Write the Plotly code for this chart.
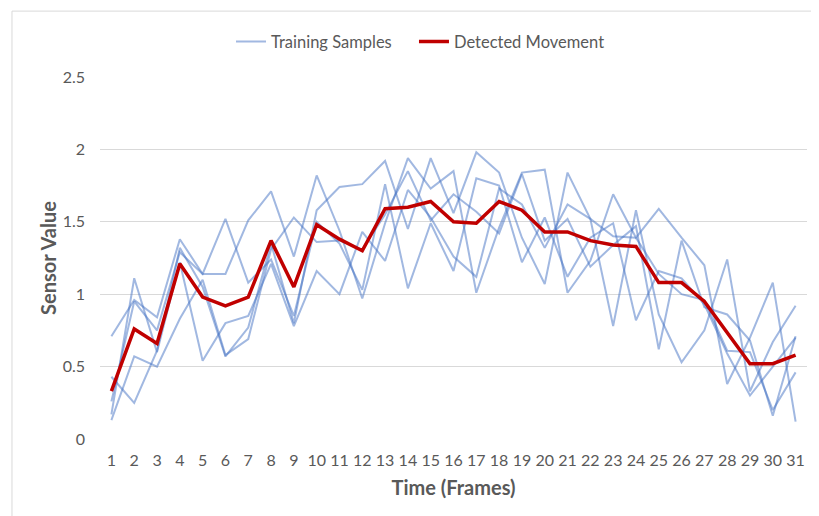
import plotly.graph_objects as go

frames = [str(f) for f in range(1, 32)]

sample_1 = [0.71, 0.96, 0.84, 1.38, 1.14, 1.14, 1.51, 1.71, 1.26, 1.82, 1.44, 0.97, 1.49, 1.94, 1.73, 1.85,
            1.01, 1.46, 1.84, 1.86, 1.01, 1.23, 1.69, 1.39, 1.59, 1.39, 1.20, 0.38, 0.70, 1.08, 0.12]
sample_2 = [0.43, 0.25, 0.61, 1.32, 1.05, 0.57, 0.77, 1.35, 0.80, 1.58, 1.74, 1.76, 1.92, 1.45, 1.94, 1.56,
            1.98, 1.84, 1.39, 1.07, 1.84, 1.52, 0.78, 1.58, 0.86, 0.53, 0.75, 1.24, 0.33, 0.67, 0.92]
sample_3 = [0.26, 0.95, 0.75, 1.29, 1.14, 1.52, 1.08, 1.24, 0.85, 1.50, 1.35, 1.03, 1.76, 1.04, 1.49, 1.16,
            1.80, 1.75, 1.22, 1.53, 1.12, 1.39, 1.49, 0.82, 1.16, 1.11, 0.93, 0.59, 0.30, 0.50, 0.70]
sample_4 = [0.17, 1.11, 0.60, 1.22, 0.54, 0.80, 0.85, 1.21, 0.78, 1.16, 1.00, 1.43, 1.23, 1.72, 1.53, 1.26,
            1.12, 1.73, 1.62, 1.32, 1.62, 1.52, 1.40, 1.39, 1.14, 1.00, 0.96, 0.61, 0.60, 0.20, 0.46]
sample_5 = [0.13, 0.57, 0.50, 0.83, 1.10, 0.58, 0.69, 1.31, 1.53, 1.36, 1.37, 1.31, 1.55, 1.85, 1.51, 1.69,
            1.57, 1.42, 1.83, 1.37, 1.52, 1.19, 1.34, 1.47, 0.62, 1.37, 0.91, 0.86, 0.68, 0.16, 0.71]

detected = [0.33, 0.76, 0.66, 1.21, 0.98, 0.92, 0.98, 1.37, 1.05, 1.48, 1.38, 1.30, 1.59, 1.60, 1.64, 1.50,
            1.49, 1.64, 1.58, 1.43, 1.43, 1.37, 1.34, 1.33, 1.08, 1.08, 0.95, 0.74, 0.52, 0.52, 0.58]

y_ticks = [0, 0.5, 1, 1.5, 2, 2.5]
y_tick_labels = ["0", "0.5", "1", "1.5", "2", "2.5"]

FONT = "Lato, 'Open Sans', sans-serif"
GRAY = "#595959"
BLUE = "rgba(68,114,196,0.5)"
RED = "#C00000"

fig = go.Figure()
for i, s in enumerate([sample_1, sample_2, sample_3, sample_4, sample_5]):
    fig.add_trace(go.Scatter(
        x=frames, y=s, mode="lines",
        line=dict(color=BLUE, width=2),
        name="Training Samples", legendgroup="train", showlegend=(i == 0), legend="legend",
    ))
fig.add_trace(go.Scatter(
    x=frames, y=detected, mode="lines",
    line=dict(color=RED, width=3.5), name="Detected Movement", legend="legend2",
))

legend_common = dict(orientation="h", y=1.097, yanchor="middle", xanchor="left",
                     bgcolor="rgba(0,0,0,0)", font=dict(size=16.5, color=GRAY), itemwidth=30)

fig.update_layout(
    width=819, height=516,
    margin=dict(l=92, r=20, t=69, b=85, autoexpand=False),
    paper_bgcolor="white", plot_bgcolor="white",
    font=dict(family=FONT, color=GRAY, size=16),
    legend=dict(x=0.1853, **legend_common),
    legend2=dict(x=0.4441, **legend_common),
    xaxis=dict(
        type="category", range=[-0.5, 30.5], showgrid=False, zeroline=False, showline=False, ticks="",
        tickfont=dict(size=16, color=GRAY), ticklabelstandoff=10,
        title=dict(text="<b>Time (Frames)</b>", font=dict(size=20, color=GRAY), standoff=12),
    ),
    yaxis=dict(
        range=[0, 2.5], tickvals=y_ticks, ticktext=y_tick_labels,
        showgrid=True, gridcolor="#d9d9d9", gridwidth=1, zeroline=False, showline=False,
        ticks="", tickfont=dict(size=16, color=GRAY), ticklabelstandoff=14,
        title=dict(text="<b>Sensor Value</b>", font=dict(size=20, color=GRAY), standoff=0),
    ),
    shapes=[dict(type="rect", xref="paper", yref="paper", x0=-0.1245, x1=1.2, y0=-0.5, y1=1.182,
                 line=dict(color="#d9d9d9", width=1), layer="below")],
)

fig.write_html("out.html")
